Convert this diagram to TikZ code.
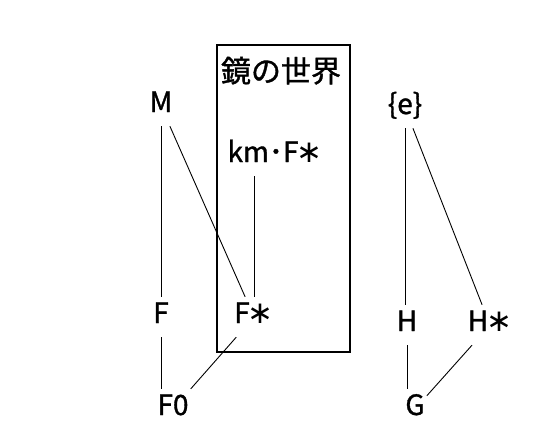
\documentclass[tikz,border=0pt]{standalone}
\usepackage{fontspec}
\setmainfont{Noto Sans CJK JP}[FakeBold=1.2]
\newfontfamily\symfont{DejaVu Sans}
\newcommand{\ask}{\hspace{-2pt}{\symfont\fontsize{31}{30}\selectfont ∗}\hspace{-2pt}}
\tikzset{elem/.style={inner xsep=2pt,inner ysep=7pt,text height=19pt,text depth=7pt,font=\fontsize{28}{30}\selectfont},
         mirror/.style={draw,line width=1.3pt,minimum width=133pt,minimum height=307pt,inner sep=0pt},
         link/.style={line width=0.9pt}}

\begin{document}
\begin{tikzpicture}[x=1pt,y=-1pt]
        \useasboundingbox (0,0) rectangle (545,445);
        \node[mirror](box)at(283.5,198.5){};
        \node[elem,font=\fontsize{30}{32}\selectfont](title)at(281,76){鏡の世界};
        \node[elem](M)at(161,106){M};
        \node[elem](kmFs)at(275,156){km･F\ask};
        \node[elem](F)at(161,317){F};
        \node[elem](Fs)at(254,317){F\ask};
        \node[elem](F0)at(173,409){F0};
        \node[elem](e)at(405,108){\{e\}};
        \node[elem](H)at(407,325){H};
        \node[elem](Hs)at(490,325){H\ask};
        \node[elem](G)at(415,409){G};
        \draw[link](M)--(F);
        \draw[link](M)--(Fs);
        \draw[link](Fs)--(Fs|-kmFs.south);
        \draw[link](F)--(F|-F0.north);
        \draw[link](Fs)--(F0);
        \draw[link](e)--(e|-H.north);
        \draw[link](e)--(Hs);
        \draw[link](H)--(H|-G.north);
        \draw[link](Hs)--(G);
    \end{tikzpicture}
\end{document}
